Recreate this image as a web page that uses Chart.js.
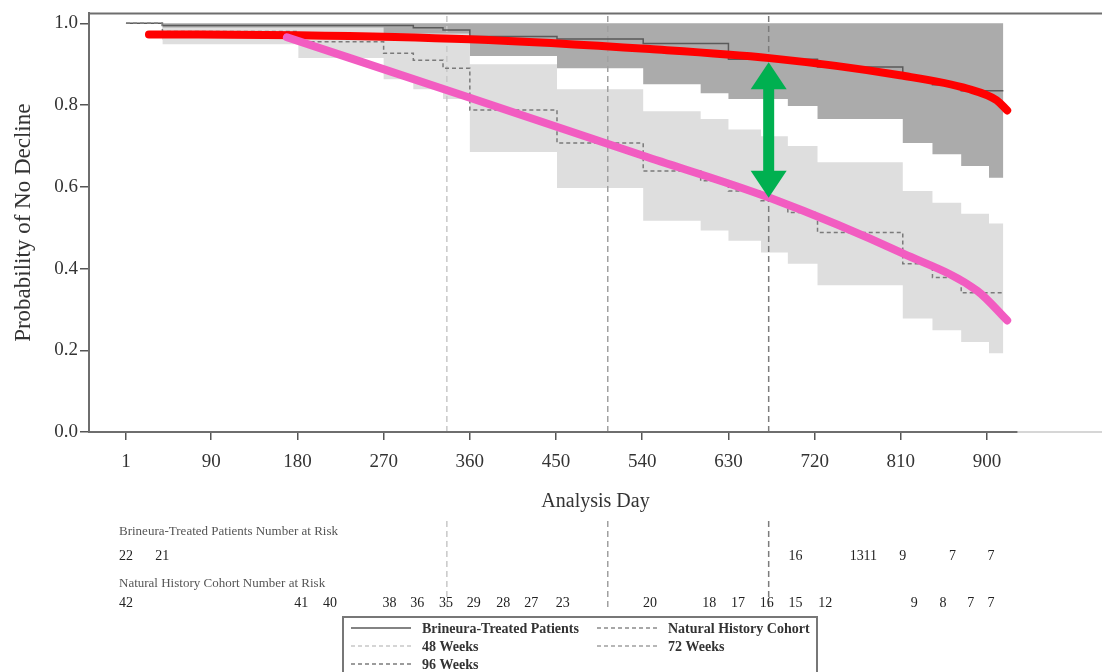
<!DOCTYPE html>
<html>
<head>
<meta charset="utf-8">
<script src="https://cdn.jsdelivr.net/npm/chart.js@4.4.1/dist/chart.umd.min.js"></script>
<style>
  html, body { margin: 0; padding: 0; background: #fff; }
  canvas { display: block; }
</style>
</head>
<body>
<canvas id="kmChart" width="1102" height="672"></canvas>
<script>
// axis ticks
const xTickDays = [1, 90, 180, 270, 360, 450, 540, 630, 720, 810, 900];
const yTickValues = [0, 0.2, 0.4, 0.6, 0.8, 1.0];

// Kaplan-Meier estimates (each value holds from its day on)
const treatedDays = [1, 39, 301, 332, 360, 451, 541, 630, 723, 812, 843, 873, 917];
const treatedSurv = [1.0, 0.995, 0.989, 0.984, 0.968, 0.962, 0.951, 0.912, 0.893, 0.866, 0.85, 0.835, 0.835];
const naturalDays = [1, 39, 181, 270, 301, 332, 360, 451, 541, 601, 630, 664, 692, 723, 812, 843, 873, 917];
const naturalSurv = [1.0, 0.98, 0.955, 0.927, 0.91, 0.89, 0.788, 0.707, 0.639, 0.615, 0.59, 0.566, 0.537, 0.488, 0.412, 0.378, 0.341, 0.341];

// confidence bands
const bandDays = [39, 181, 270, 301, 332, 360, 451, 541, 601, 630, 664, 692, 723, 812, 843, 873, 902, 917];
const treatedUpper = [1, 1, 1, 1, 1, 1, 1, 1, 1, 1, 1, 1, 1, 1, 1, 1, 1, 1];
const treatedLower = [0.96, 0.96, 0.95, 0.95, 0.95, 0.92, 0.89, 0.851, 0.829, 0.815, 0.815, 0.798, 0.766, 0.707, 0.68, 0.651, 0.622, 0.622];
const naturalUpper = [0.99, 0.99, 0.975, 0.975, 0.975, 0.90, 0.839, 0.785, 0.766, 0.74, 0.724, 0.70, 0.66, 0.59, 0.561, 0.534, 0.51, 0.51];
const naturalLower = [0.949, 0.915, 0.863, 0.839, 0.815, 0.685, 0.597, 0.517, 0.493, 0.468, 0.439, 0.412, 0.359, 0.278, 0.249, 0.22, 0.193, 0.193];

// hand drawn trend curves
const redDays = [25, 181, 360, 548, 673, 809, 880, 910, 921];
const redVals = [0.973, 0.971, 0.961, 0.937, 0.915, 0.873, 0.84, 0.812, 0.787];
const pinkDays = [169, 360, 541, 673, 812, 890, 921];
const pinkVals = [0.966, 0.818, 0.676, 0.573, 0.437, 0.345, 0.273];

// green arrow between the curves
const arrowDay = 672;
const arrowTop = 0.905;
const arrowBottom = 0.573;

// reference lines
const weekDays = [336, 504, 672];
const weekLabels = ["48 Weeks", "72 Weeks", "96 Weeks"];
const weekColors = ["#c8c8c8", "#a0a0a0", "#7c7c7c"];

// number at risk
const treatedRiskDays = [1, 39, 700, 764, 778, 812, 864, 904];
const treatedRiskN = [22, 21, 16, 13, 11, 9, 7, 7];
const naturalRiskDays = [1, 184, 214, 276, 305, 335, 364, 395, 424, 457, 548, 610, 640, 670, 700, 731, 824, 854, 883, 904];
const naturalRiskN = [42, 41, 40, 38, 36, 35, 29, 28, 27, 23, 20, 18, 17, 16, 15, 12, 9, 8, 7, 7];

const SERIF = "'Liberation Serif', 'DejaVu Serif', serif";
const Y_MAX = 1.0244;

function pts(days, vals) {
    return days.map((d, i) => ({ x: d, y: vals[i] }));
}

const none = "rgba(0,0,0,0)";

let datasets = [
    { data: pts(bandDays, treatedUpper), stepped: true, borderColor: none, fill: false, order: 20 },
    { data: pts(bandDays, treatedLower), stepped: true, borderColor: none, fill: "-1", backgroundColor: "#ababab", order: 19 },
    { data: pts(bandDays, naturalUpper), stepped: true, borderColor: none, fill: false, order: 18 },
    { data: pts(bandDays, naturalLower), stepped: true, borderColor: none, fill: "-1", backgroundColor: "#dedede", order: 17 }
];

weekDays.forEach((d, i) => {
    datasets.push({
        data: [{ x: d, y: 0 }, { x: d, y: Y_MAX }],
        borderColor: weekColors[i], borderWidth: 1.5, borderDash: [6, 4], fill: false, order: 12 - i
    });
});

datasets.push(
    { data: pts(treatedDays, treatedSurv), stepped: true, borderColor: "#5a5a5a", borderWidth: 1.5, fill: false, order: 6 },
    { data: pts(naturalDays, naturalSurv), stepped: true, borderColor: "#7a7a7a", borderWidth: 1.5, borderDash: [4, 3], fill: false, order: 5 },
    { data: pts(redDays, redVals), borderColor: "#ff0000", borderWidth: 8, cubicInterpolationMode: "monotone",
      borderCapStyle: "round", borderJoinStyle: "round", fill: false, order: 2 },
    { data: pts(pinkDays, pinkVals), borderColor: "#f25cc1", borderWidth: 8, cubicInterpolationMode: "monotone",
      borderCapStyle: "round", borderJoinStyle: "round", fill: false, order: 1 }
);

// extra drawing: frame, arrow, titles, risk table, legend
const extras = {
    id: "extras",
    afterDatasetsDraw(chart) {
        let ctx = chart.ctx;
        let xs = chart.scales.x, ys = chart.scales.y;
        let ax = xs.getPixelForValue(arrowDay);
        let top = ys.getPixelForValue(arrowTop);
        let bot = ys.getPixelForValue(arrowBottom);
        let head = 27, half = 18, shaft = 11;
        ctx.save();
        ctx.fillStyle = "#00b050";
        ctx.fillRect(ax - shaft / 2, top + head - 1, shaft, bot - top - 2 * head + 2);
        ctx.beginPath();
        ctx.moveTo(ax, top);
        ctx.lineTo(ax + half, top + head);
        ctx.lineTo(ax - half, top + head);
        ctx.closePath();
        ctx.fill();
        ctx.beginPath();
        ctx.moveTo(ax, bot);
        ctx.lineTo(ax + half, bot - head);
        ctx.lineTo(ax - half, bot - head);
        ctx.closePath();
        ctx.fill();
        ctx.restore();
    },
    afterDraw(chart) {
        let ctx = chart.ctx;
        let area = chart.chartArea;
        let xs = chart.scales.x;
        ctx.save();

        // top border and bottom axis line
        ctx.strokeStyle = "#6e6e6e";
        ctx.lineWidth = 2;
        ctx.beginPath();
        ctx.moveTo(area.left, area.top);
        ctx.lineTo(area.right, area.top);
        ctx.moveTo(area.left - 1, area.bottom);
        ctx.lineTo(xs.getPixelForValue(932), area.bottom);
        ctx.stroke();
        ctx.strokeStyle = "#d6d6d6";
        ctx.beginPath();
        ctx.moveTo(xs.getPixelForValue(932), area.bottom);
        ctx.lineTo(area.right, area.bottom);
        ctx.stroke();

        // axis titles
        ctx.fillStyle = "#333";
        ctx.textAlign = "center";
        ctx.textBaseline = "middle";
        ctx.font = "20px " + SERIF;
        ctx.fillText("Analysis Day", (area.left + area.right) / 2, 502);
        ctx.save();
        ctx.translate(24, (area.top + area.bottom) / 2);
        ctx.rotate(-Math.PI / 2);
        ctx.font = "23px " + SERIF;
        ctx.fillText("Probability of No Decline", 0, 0);
        ctx.restore();

        // dashed week lines through the risk table
        weekDays.forEach((d, i) => {
            let x = xs.getPixelForValue(d);
            ctx.strokeStyle = weekColors[i];
            ctx.lineWidth = 1.5;
            ctx.setLineDash([6, 4]);
            ctx.beginPath();
            ctx.moveTo(x, 521);
            ctx.lineTo(x, 610);
            ctx.stroke();
        });
        ctx.setLineDash([]);

        // number at risk table
        ctx.textAlign = "left";
        ctx.fillStyle = "#555";
        ctx.font = "13px " + SERIF;
        ctx.fillText("Brineura-Treated Patients Number at Risk", 119, 532);
        ctx.fillText("Natural History Cohort Number at Risk", 119, 584);
        ctx.textAlign = "center";
        ctx.fillStyle = "#222";
        ctx.font = "14px " + SERIF;
        treatedRiskDays.forEach((d, i) => {
            ctx.fillText(String(treatedRiskN[i]), xs.getPixelForValue(d), 556);
        });
        naturalRiskDays.forEach((d, i) => {
            ctx.fillText(String(naturalRiskN[i]), xs.getPixelForValue(d), 603);
        });

        // legend box
        ctx.strokeStyle = "#777";
        ctx.lineWidth = 2;
        ctx.strokeRect(343, 617, 474, 70);
        let legendRows = [
            { x: 351, y: 628, color: "#5a5a5a", dash: [], text: "Brineura-Treated Patients" },
            { x: 597, y: 628, color: "#8a8a8a", dash: [4, 3], text: "Natural History Cohort" },
            { x: 351, y: 646, color: weekColors[0], dash: [4, 3], text: weekLabels[0] },
            { x: 597, y: 646, color: weekColors[1], dash: [4, 3], text: weekLabels[1] },
            { x: 351, y: 664, color: weekColors[2], dash: [4, 3], text: weekLabels[2] }
        ];
        ctx.textAlign = "left";
        ctx.font = "bold 14px " + SERIF;
        legendRows.forEach(r => {
            ctx.strokeStyle = r.color;
            ctx.lineWidth = 1.5;
            ctx.setLineDash(r.dash);
            ctx.beginPath();
            ctx.moveTo(r.x, r.y);
            ctx.lineTo(r.x + 60, r.y);
            ctx.stroke();
            ctx.setLineDash([]);
            ctx.fillStyle = "#333";
            ctx.fillText(r.text, r.x + 71, r.y + 1);
        });
        ctx.restore();
    }
};

let chart = new Chart(document.getElementById("kmChart").getContext("2d"), {
    type: "line",
    data: { datasets: datasets },
    options: {
        responsive: false,
        animation: false,
        events: [],
        layout: { padding: { top: 12, left: 0, right: 0, bottom: 0 } },
        elements: { point: { radius: 0 }, line: { tension: 0 } },
        plugins: { legend: { display: false }, tooltip: { enabled: false } },
        scales: {
            x: {
                type: "linear",
                min: -37.6,
                max: 1020,
                afterFit: s => { s.height = 240; },
                afterBuildTicks: s => { s.ticks = xTickDays.map(v => ({ value: v })); },
                grid: { drawOnChartArea: false, tickLength: 8, color: "#555", lineWidth: 1.5 },
                border: { display: false },
                ticks: { color: "#333", padding: 11, maxRotation: 0, autoSkip: false,
                         font: { family: SERIF, size: 19 } }
            },
            y: {
                min: 0,
                max: Y_MAX,
                afterFit: s => { s.width = 89; },
                afterBuildTicks: s => { s.ticks = yTickValues.map(v => ({ value: v })); },
                grid: { drawOnChartArea: false, tickLength: 9, color: "#555", lineWidth: 1.5 },
                border: { display: true, color: "#6e6e6e", width: 2 },
                ticks: { color: "#333", padding: 2, callback: v => v.toFixed(1),
                         font: { family: SERIF, size: 19 } }
            }
        }
    },
    plugins: [extras]
});
</script>
</body>
</html>
